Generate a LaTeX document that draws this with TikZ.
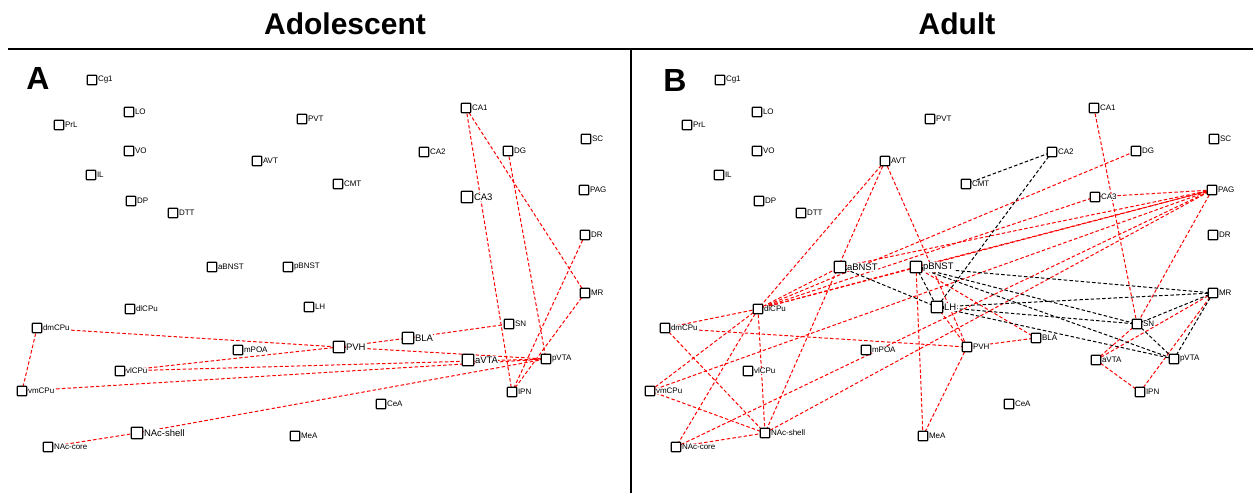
\documentclass[tikz,border=0pt]{standalone}
\usepackage{fontspec}
\setmainfont{Liberation Sans}
\usetikzlibrary{backgrounds}

\tikzset{
  regtext/.style={font=\fontsize{8}{8}\selectfont,fill=white,inner sep=0.4pt},
  hubtext/.style={font=\fontsize{9.5}{10}\selectfont,fill=white,inner sep=0.4pt},
  region/.style={draw,fill=white,line width=1.3pt,rounded corners=0.8pt,minimum size=9.5pt,inner sep=0pt,
    label distance=0.3pt,label={[regtext]right:#1}},
  hub/.style={draw,fill=white,line width=1.3pt,rounded corners=0.8pt,minimum size=11.5pt,inner sep=0pt,
    label distance=0.3pt,label={[hubtext]right:#1}},
  poslink/.style={red,line width=1pt,dash pattern=on 3.5pt off 2.2pt},
  neglink/.style={black,line width=1pt,dash pattern=on 3.5pt off 2.2pt},
  title/.style={font=\bfseries\fontsize{30}{30}\selectfont},
  panel/.style={font=\bfseries\fontsize{32}{32}\selectfont}
}

\begin{document}
\begin{tikzpicture}[x=1pt,y=-1pt]
\useasboundingbox (0,0) rectangle (1253,493);

% headings and frame
\node[title] (adol) at (345,24) {Adolescent};
\node[title] (adul) at (957,24) {Adult};
\draw[line width=2.5pt] (8,49) -- (1253,49);
\draw[line width=1.8pt] (631,49) -- (631,493);
\node[panel] (lblA) at (38,78) {A};
\node[panel] (lblB) at (675,80) {B};

% regions: name/x/y/style in A/style in B
\foreach \n/\x/\y/\sa/\sb in {
  Cg1/92/80/region/region, LO/129/112/region/region, PrL/59/125/region/region,
  PVT/302/119/region/region, VO/129/151/region/region, AVT/257/161/region/region,
  IL/91/175/region/region, DP/131/201/region/region, DTT/173/213/region/region,
  CMT/338/184/region/region, CA2/424/152/region/region, CA1/466/108/region/region,
  DG/508/151/region/region, SC/586/139/region/region, CA3/467/197/hub/region,
  PAG/584/190/region/region, DR/585/235/region/region, aBNST/212/267/region/hub,
  pBNST/288/267/region/hub, LH/309/307/region/hub, MR/585/293/region/region,
  dlCPu/130/309/region/region, SN/509/324/region/region, dmCPu/37/328/region/region,
  BLA/408/338/hub/region, PVH/339/347/hub/region, mPOA/238/350/region/region,
  aVTA/468/360/hub/region, pVTA/546/359/region/region, vlCPu/120/371/region/region,
  vmCPu/22/391/region/region, IPN/512/392/region/region, CeA/381/404/region/region,
  NAc-shell/137/433/hub/region, MeA/295/436/region/region, NAc-core/48/447/region/region}
{
  \node[\sa=\n] (a-\n) at (\x,\y) {};
  \node[\sb=\n] (b-\n) at (\x+628,\y) {};
}

\begin{scope}[on background layer]
% adolescent
\foreach \u/\v in {dmCPu/vmCPu, dmCPu/PVH, vlCPu/PVH, vlCPu/pVTA, vmCPu/pVTA,
  NAc-core/NAc-shell, NAc-shell/pVTA, PVH/BLA, PVH/pVTA, BLA/SN,
  CA1/IPN, CA1/MR, DG/pVTA, DR/IPN, MR/IPN}
  \draw[poslink] (a-\u.center) -- (a-\v.center);
% adult
\foreach \u/\v in {AVT/dlCPu, AVT/NAc-shell, AVT/PVH, dlCPu/dmCPu, dlCPu/vmCPu,
  dlCPu/NAc-core, dlCPu/NAc-shell, dlCPu/DG, dlCPu/CA3, dlCPu/PAG, dlCPu/pBNST,
  dlCPu/aBNST, dmCPu/PVH, dmCPu/NAc-shell, vmCPu/NAc-shell, NAc-core/NAc-shell,
  vmCPu/PAG, NAc-core/PAG, NAc-shell/PAG, aBNST/PAG, pBNST/PAG, pBNST/MeA,
  PVH/MeA, pBNST/BLA, LH/PVH, PVH/BLA, CA1/SN, PAG/SN, PAG/CA3,
  aVTA/SN, aVTA/MR, aVTA/IPN, IPN/MR}
  \draw[poslink] (b-\u.center) -- (b-\v.center);
\foreach \u/\v in {CMT/CA2, CA2/LH, aBNST/LH, pBNST/LH, pBNST/MR, pBNST/SN,
  pBNST/pVTA, LH/MR, LH/SN, LH/pVTA, SN/MR, SN/pVTA, MR/pVTA}
  \draw[neglink] (b-\u.center) -- (b-\v.center);
\end{scope}
\end{tikzpicture}
\end{document}
